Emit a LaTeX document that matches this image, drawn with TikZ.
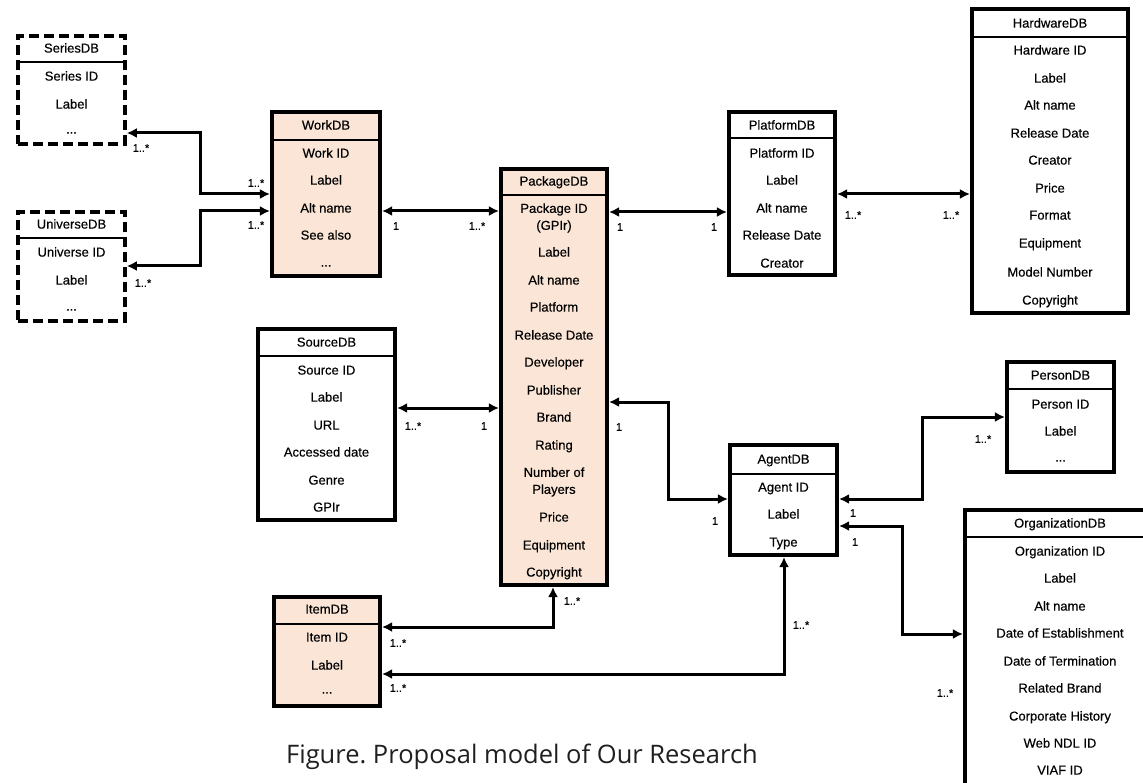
\documentclass[tikz,border=0pt]{standalone}
\usepackage{fontspec}
\setmainfont{Liberation Sans}
\newfontfamily\boxfont{Liberation Sans}[FakeBold=0.35]
\newfontfamily\capfont{Open Sans}
\usetikzlibrary{arrows.meta,fit}
\definecolor{peach}{HTML}{FBE5D6}
\newcommand\tdots{...}
\newcommand\dbbox[6]{%
  \coordinate (#1-nw) at (#3+2.2,#4+2.2);
  \coordinate (#1-se) at (#5-2.2,#6-2.2);
  \node[#2,fit=(#1-nw)(#1-se)] (#1) {};}
\newcommand\dbhead[4]{%
  \coordinate (#1-s) at (0,#2);
  \draw[seprule] (#1-nw |- #1-s) -- (#1-se |- #1-s);
  \coordinate (#1-t) at (0,#3+4.6);
  \node[rowtxt] (#1-title) at (#1.center |- #1-t) {#4};}
\newcommand\dbrows[2]{%
  \foreach \ry/\rt [count=\ri] in {#2} {%
    \coordinate (#1-c\ri) at (0,\ry+4.6);
    \node[rowtxt] (#1-r\ri) at (#1.center |- #1-c\ri) {\rt};}}
\begin{document}
\begin{tikzpicture}[x=1pt,y=-1pt,
  tbl/.style={draw=black,line width=4.5pt,inner sep=0pt,fill=white},
  tblpeach/.style={tbl,fill=peach},
  tbldash/.style={tbl,line width=4pt,dash pattern=on 10pt off 5pt},
  seprule/.style={line width=1.3pt},
  rowtxt/.style={font=\boxfont\fontsize{13}{16}\selectfont,anchor=base,inner sep=0pt},
  multitxt/.style={font=\boxfont\fontsize{13}{17}\selectfont,align=center,inner sep=0pt},
  link/.style={line width=3pt,{Latex[length=10pt,width=10pt]}-{Latex[length=10pt,width=10pt]}},
  mult/.style={font=\boxfont\fontsize{11}{12}\selectfont,inner sep=0pt},
]
\useasboundingbox (0,0) rectangle (1143,783);

% ---------- tables ----------
\dbbox{series}{tbldash}{16}{34}{127}{146}
\dbhead{series}{62}{48}{SeriesDB}
\dbrows{series}{76/Series ID,104/Label,129/\tdots}

\dbbox{universe}{tbldash}{16}{210}{127}{323}
\dbhead{universe}{238}{224}{UniverseDB}
\dbrows{universe}{252/Universe ID,280/Label,306/\tdots}

\dbbox{work}{tblpeach}{270}{110}{382}{278}
\dbhead{work}{140}{125}{WorkDB}
\dbrows{work}{153/Work ID,180/Label,208/Alt name,235/See also,262/\tdots}

\dbbox{package}{tblpeach}{499}{167}{609}{587}
\dbhead{package}{195}{181}{PackageDB}
\node[multitxt] (package-id) at (554,218) {Package ID\\(GPIr)};
\dbrows{package}{252/Label,280/Alt name,307/Platform,335/Release Date,362/Developer,390/Publisher,417/Brand,445/Rating,517/Price,545/Equipment,572/Copyright}
\node[multitxt] (package-players) at (554,482) {Number of\\Players};

\dbbox{platform}{tbl}{727}{110}{837}{277}
\dbhead{platform}{138}{125}{PlatformDB}
\dbrows{platform}{153/Platform ID,180/Label,208/Alt name,235/Release Date,263/Creator}

\dbbox{hardware}{tbl}{970}{7}{1130}{315}
\dbhead{hardware}{37}{23}{HardwareDB}
\dbrows{hardware}{50/Hardware ID,78/Label,105/Alt name,133/Release Date,160/Creator,188/Price,215/Format,243/Equipment,272/Model Number,300/Copyright}

\dbbox{source}{tbl}{256}{327}{397}{522}
\dbhead{source}{356}{342}{SourceDB}
\dbrows{source}{370/Source ID,397/Label,425/URL,452/Accessed date,480/Genre,507/GPIr}

\dbbox{item}{tblpeach}{272}{595}{382}{708}
\dbhead{item}{624}{609}{ItemDB}
\dbrows{item}{637/Item ID,665/Label,689/\tdots}

\dbbox{agent}{tbl}{728}{443}{839}{557}
\dbhead{agent}{474}{459}{AgentDB}
\dbrows{agent}{487/Agent ID,514/Label,542/Type}

\dbbox{person}{tbl}{1005}{360}{1116}{474}
\dbhead{person}{389}{375}{PersonDB}
\dbrows{person}{404/Person ID,431/Label,457/\tdots}

\dbbox{org}{tbl}{963}{508}{1157}{800}
\dbhead{org}{537}{523}{OrganizationDB}
\dbrows{org}{551/Organization ID,578/Label,606/Alt name,633/Date of Establishment,661/Date of Termination,688/Related Brand,716/Corporate History,743/Web NDL ID,770/VIAF ID}

% ---------- connectors ----------
\coordinate (a1) at (200,133); \coordinate (a2) at (200,194);
\draw[link] (series.east |- a1) -- (a1) -- (a2) -- (work.west |- a2);
\coordinate (b1) at (200,266); \coordinate (b2) at (200,211);
\draw[link] (universe.east |- b1) -- (b1) -- (b2) -- (work.west |- b2);
\coordinate (c1) at (0,211);
\draw[link] (work.east |- c1) -- (package.west |- c1);
\coordinate (d1) at (0,212);
\draw[link] (package.east |- d1) -- (platform.west |- d1);
\coordinate (e1) at (0,194);
\draw[link] (platform.east |- e1) -- (hardware.west |- e1);
\coordinate (f1) at (0,408);
\draw[link] (source.east |- f1) -- (package.west |- f1);
\coordinate (g1) at (668,402); \coordinate (g2) at (668,499);
\draw[link] (package.east |- g1) -- (g1) -- (g2) -- (agent.west |- g2);
\coordinate (h1) at (922,499); \coordinate (h2) at (922,417);
\draw[link] (agent.east |- h1) -- (h1) -- (h2) -- (person.west |- h2);
\coordinate (i1) at (902,526); \coordinate (i2) at (902,634);
\draw[link] (agent.east |- i1) -- (i1) -- (i2) -- (org.west |- i2);
\coordinate (j1) at (553,627);
\draw[link] (package.south -| j1) -- (j1) -- (item.east |- j1);
\coordinate (k1) at (784,674);
\draw[link] (agent.south -| k1) -- (k1) -- (item.east |- k1);

% ---------- multiplicities ----------
\node[mult] (m1) at (141,148) {1..*};
\node[mult] (m2) at (256,183) {1..*};
\node[mult] (m3) at (256,225) {1..*};
\node[mult] (m4) at (143,283) {1..*};
\node[mult] (m5) at (396,226) {1};
\node[mult] (m6) at (477,226) {1..*};
\node[mult] (m7) at (620,227) {1};
\node[mult] (m8) at (714,227) {1};
\node[mult] (m9) at (853,215) {1..*};
\node[mult] (m10) at (951,215) {1..*};
\node[mult] (m11) at (413,426) {1..*};
\node[mult] (m12) at (484,426) {1};
\node[mult] (m13) at (619,427) {1};
\node[mult] (m14) at (715,521) {1};
\node[mult] (m15) at (853,513) {1};
\node[mult] (m16) at (983,439) {1..*};
\node[mult] (m17) at (855,542) {1};
\node[mult] (m18) at (945,693) {1..*};
\node[mult] (m19) at (572,601) {1..*};
\node[mult] (m20) at (398,643) {1..*};
\node[mult] (m21) at (801,625) {1..*};
\node[mult] (m22) at (398,688) {1..*};

% ---------- caption ----------
\node[font=\capfont\fontsize{25.5}{30}\selectfont,text=black!88,inner sep=0pt] (caption) at (522,757) {Figure.\ Proposal model of Our Research};
\end{tikzpicture}
\end{document}
